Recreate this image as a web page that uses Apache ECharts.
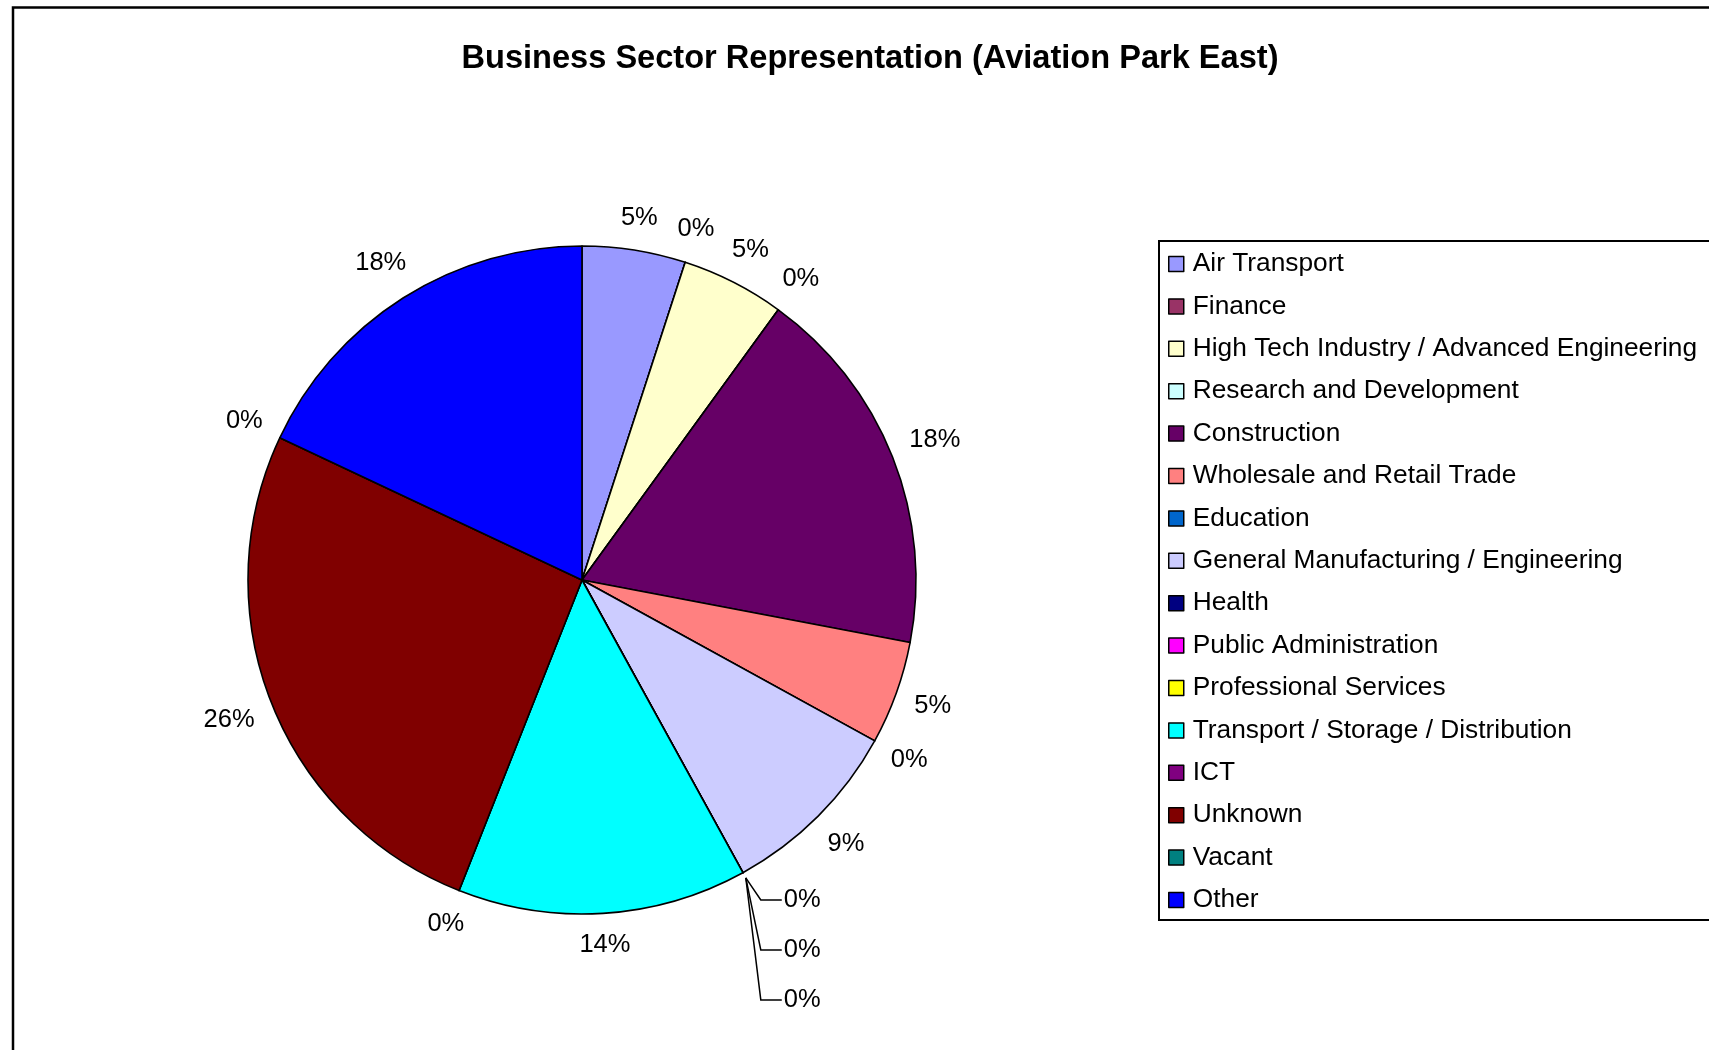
<!DOCTYPE html>
<html>
<head>
<meta charset="utf-8">
<title>Business Sector Representation (Aviation Park East)</title>
<script src="https://cdn.jsdelivr.net/npm/echarts@6/dist/echarts.min.js"></script>
<style>
  html, body { margin: 0; padding: 0; background: #ffffff; }
  #chart { width: 1709px; height: 1050px; }
</style>
</head>
<body>
<div id="chart"></div>
<script>
// ---- data ----
const titleText = 'Business Sector Representation (Aviation Park East)';
const sectors = [
  'Air Transport',
  'Finance',
  'High Tech Industry / Advanced Engineering',
  'Research and Development',
  'Construction',
  'Wholesale and Retail Trade',
  'Education',
  'General Manufacturing / Engineering',
  'Health',
  'Public Administration',
  'Professional Services',
  'Transport / Storage / Distribution',
  'ICT',
  'Unknown',
  'Vacant',
  'Other'
];
// share of units per sector, in percent
const shares = [5, 0, 5, 0, 18, 5, 0, 9, 0, 0, 0, 14, 0, 26, 0, 18];
const colors = [
  '#9999FF', '#993366', '#FFFFCC', '#CCFFFF', '#660066', '#FF8080',
  '#0066CC', '#CCCCFF', '#000080', '#FF00FF', '#FFFF00', '#00FFFF',
  '#800080', '#800000', '#008080', '#0000FF'
];

// ---- layout ----
const FONT = '"Liberation Sans", Arial, Helvetica, sans-serif';
const PIE_X = 582, PIE_Y = 580, PIE_R = 334;
const LABEL_GAP = 17;

const total = shares.reduce((a, b) => a + b, 0);
const starts = [];
(function () { let acc = 0; shares.forEach(v => { starts.push(acc); acc += v; }); })();

// clockwise angle from 12 o'clock (degrees) at which a slice's label sits
function anchorAngle(i) {
  return (starts[i] + shares[i] / 2) / total * 360;
}

// position of a zero-valued slice inside its run of adjacent zero slices
function zeroRun(i) {
  if (shares[i] !== 0) return { len: 0, pos: 0 };
  let s = i, e = i;
  while (s > 0 && shares[s - 1] === 0) s--;
  while (e < shares.length - 1 && shares[e + 1] === 0) e++;
  return { len: e - s + 1, pos: i - s };
}

const pieData = sectors.map((name, i) => ({
  name: name,
  value: shares[i],
  itemStyle: { color: colors[i] },
  labelLine: { show: zeroRun(i).len > 1 }
}));

// bold heading, fitted to its line width
const TITLE_FONT = 'bold 33px ' + FONT;
const TITLE_WIDTH = 817;
const measureCtx = document.createElement('canvas').getContext('2d');
measureCtx.font = TITLE_FONT;
const titleScale = TITLE_WIDTH / measureCtx.measureText(titleText).width;

const chart = echarts.init(document.getElementById('chart'), null, { renderer: 'canvas' });

chart.setOption({
  backgroundColor: '#ffffff',
  animation: false,
  graphic: [
    {
      type: 'rect',
      silent: true,
      shape: { x: 13, y: 7.5, width: 2000, height: 2000 },
      style: { fill: 'none', stroke: '#000000', lineWidth: 2.5 }
    },
    {
      type: 'text',
      silent: true,
      x: 870,
      y: 59,
      scaleX: titleScale,
      style: {
        text: titleText,
        font: TITLE_FONT,
        fill: '#000000',
        textAlign: 'center',
        textVerticalAlign: 'middle'
      }
    }
  ],
  legend: {
    data: sectors,
    orient: 'vertical',
    left: 1159,
    top: 241,
    padding: [8, 120, 5, 9],
    itemGap: 12.4,
    itemWidth: 15,
    itemHeight: 15,
    icon: 'rect',
    selectedMode: false,
    borderColor: '#000000',
    borderWidth: 2,
    backgroundColor: '#ffffff',
    itemStyle: { borderColor: '#000000', borderWidth: 1.5 },
    textStyle: {
      fontFamily: FONT,
      fontSize: 26.3,
      lineHeight: 30,
      color: '#000000',
      padding: [0, 0, 0, 4]
    }
  },
  series: [
    {
      type: 'pie',
      center: [PIE_X, PIE_Y],
      radius: PIE_R,
      startAngle: 90,
      clockwise: true,
      minAngle: 0,
      avoidLabelOverlap: false,
      data: pieData,
      itemStyle: { borderColor: '#000000', borderWidth: 1.6 },
      emphasis: { disabled: true },
      label: {
        show: true,
        position: 'outside',
        formatter: '{c}%',
        fontFamily: FONT,
        fontSize: 25.5,
        color: '#000000'
      },
      labelLine: {
        show: false,
        lineStyle: { color: '#000000', width: 1.5 }
      },
      labelLayout: function (params) {
        const i = params.dataIndex;
        const rect = params.labelRect;
        const th = anchorAngle(i) * Math.PI / 180;
        const dx = Math.sin(th), dy = -Math.cos(th);
        const run = zeroRun(i);
        if (run.len > 1) {
          // stacked call-outs for a cluster of empty slices
          const sx = PIE_X + (PIE_R + 6) * dx;
          const sy = PIE_Y + (PIE_R + 6) * dy;
          const y = sy + 22 + 50 * run.pos;
          return {
            x: sx + 38,
            y: y,
            align: 'left',
            verticalAlign: 'middle',
            labelLinePoints: [[sx, sy], [sx + 15, y], [sx + 36, y]]
          };
        }
        const ext = Math.abs(dx) * rect.width / 2 + Math.abs(dy) * rect.height / 2;
        const d = PIE_R + LABEL_GAP + ext;
        return {
          x: PIE_X + d * dx,
          y: PIE_Y + d * dy,
          align: 'center',
          verticalAlign: 'middle'
        };
      }
    }
  ]
});
</script>
</body>
</html>
